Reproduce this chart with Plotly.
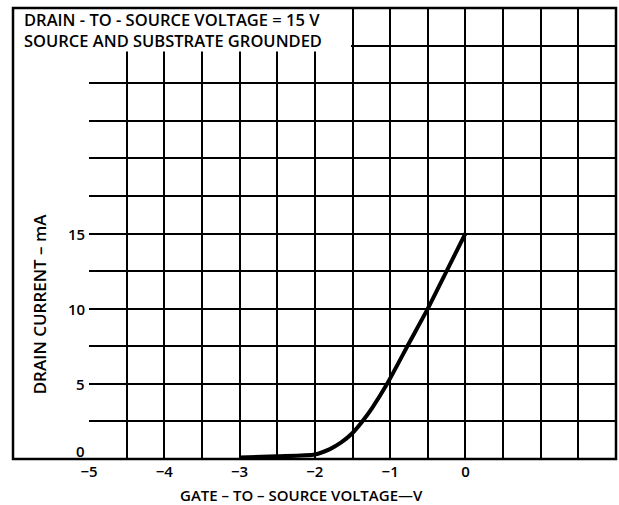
import plotly.graph_objects as go

# Data
vgs = [-3.0, -2.5, -2.0, -1.8, -1.65, -1.5, -1.37, -1.24, -1.04, -0.75, -0.5, -0.25, 0.0]
id_ma = [0.1, 0.18, 0.3, 0.66, 1.1, 1.73, 2.5, 3.39, 5.0, 7.7, 10.0, 12.5, 15.0]

x_tick_vals = [-5, -4, -3, -2, -1, 0]
x_tick_text = ["−5", "−4", "−3", "−2", "−1", "0"]
y_tick_vals = [0, 5, 10, 15]
y_tick_text = ["0", "5", "10", "15"]

note_lines = ["DRAIN - TO - SOURCE VOLTAGE = 15 V", "SOURCE AND SUBSTRATE GROUNDED"]

FONT = "Open Sans"

fig = go.Figure()
fig.add_trace(go.Scatter(
    x=vgs, y=id_ma, mode="lines",
    line=dict(color="black", width=4, shape="spline", smoothing=0.6),
    hoverinfo="skip", showlegend=False,
))

y_label_annotations = [
    dict(text=t, xref="paper", yref="y", x=0, y=v, xanchor="right", yanchor="middle",
         xshift=-2, yshift=(8 if v == 0 else 0), showarrow=False,
         font=dict(size=15, family=FONT, weight=600))
    for v, t in zip(y_tick_vals, y_tick_text)
]

fig.update_layout(
    width=619, height=505,
    margin=dict(l=89, r=3, t=8, b=46),
    paper_bgcolor="white", plot_bgcolor="white",
    font=dict(family=FONT, color="black", size=14, weight=600),
    showlegend=False,
    xaxis=dict(
        range=[-5, 2], tickvals=x_tick_vals, ticktext=x_tick_text,
        showgrid=True, gridcolor="black", gridwidth=2,
        minor=dict(dtick=0.5, tick0=0, showgrid=True, gridcolor="black", gridwidth=2),
        zeroline=False, showline=False, ticks="", ticklabelstandoff=2,
        tickfont=dict(size=15, family=FONT, weight=600),
        fixedrange=True,
    ),
    yaxis=dict(
        range=[0, 30], tickvals=y_tick_vals, showticklabels=False,
        showgrid=True, gridcolor="black", gridwidth=2,
        minor=dict(dtick=2.5, tick0=0, showgrid=True, gridcolor="black", gridwidth=2),
        zeroline=False, showline=False, ticks="",
        fixedrange=True,
    ),
    shapes=[
        # white label area hiding the grid at top-left
        dict(type="rect", xref="x", yref="y", x0=-5.05, x1=-1.52, y0=27.1, y1=30.2,
             fillcolor="white", line=dict(width=0), layer="above"),
        # outer frame
        dict(type="rect", xref="paper", yref="paper", x0=-0.1442, x1=1, y0=0, y1=1,
             line=dict(color="black", width=2.5), layer="above"),
    ],
    annotations=[
        dict(text="<br>".join(note_lines), xref="paper", yref="paper",
             x=-0.127, y=0.951, xanchor="left", yanchor="middle", align="left",
             showarrow=False, font=dict(size=16.5, family=FONT, weight=600)),
        dict(text="DRAIN CURRENT – mA", xref="paper", yref="paper",
             x=-0.095, y=0.345, xanchor="center", yanchor="middle", showarrow=False,
             textangle=-90, font=dict(size=17, family=FONT, weight=600)),
        dict(text="GATE – TO – SOURCE VOLTAGE—V", xref="paper", yref="paper",
             x=0.404, y=-0.08, xanchor="center", yanchor="middle", showarrow=False,
             font=dict(size=15, family=FONT, weight=600)),
    ] + y_label_annotations,
)

fig.write_html("out.html", config=dict(displayModeBar=False),
               post_script="document.body.style.margin='0px';")
